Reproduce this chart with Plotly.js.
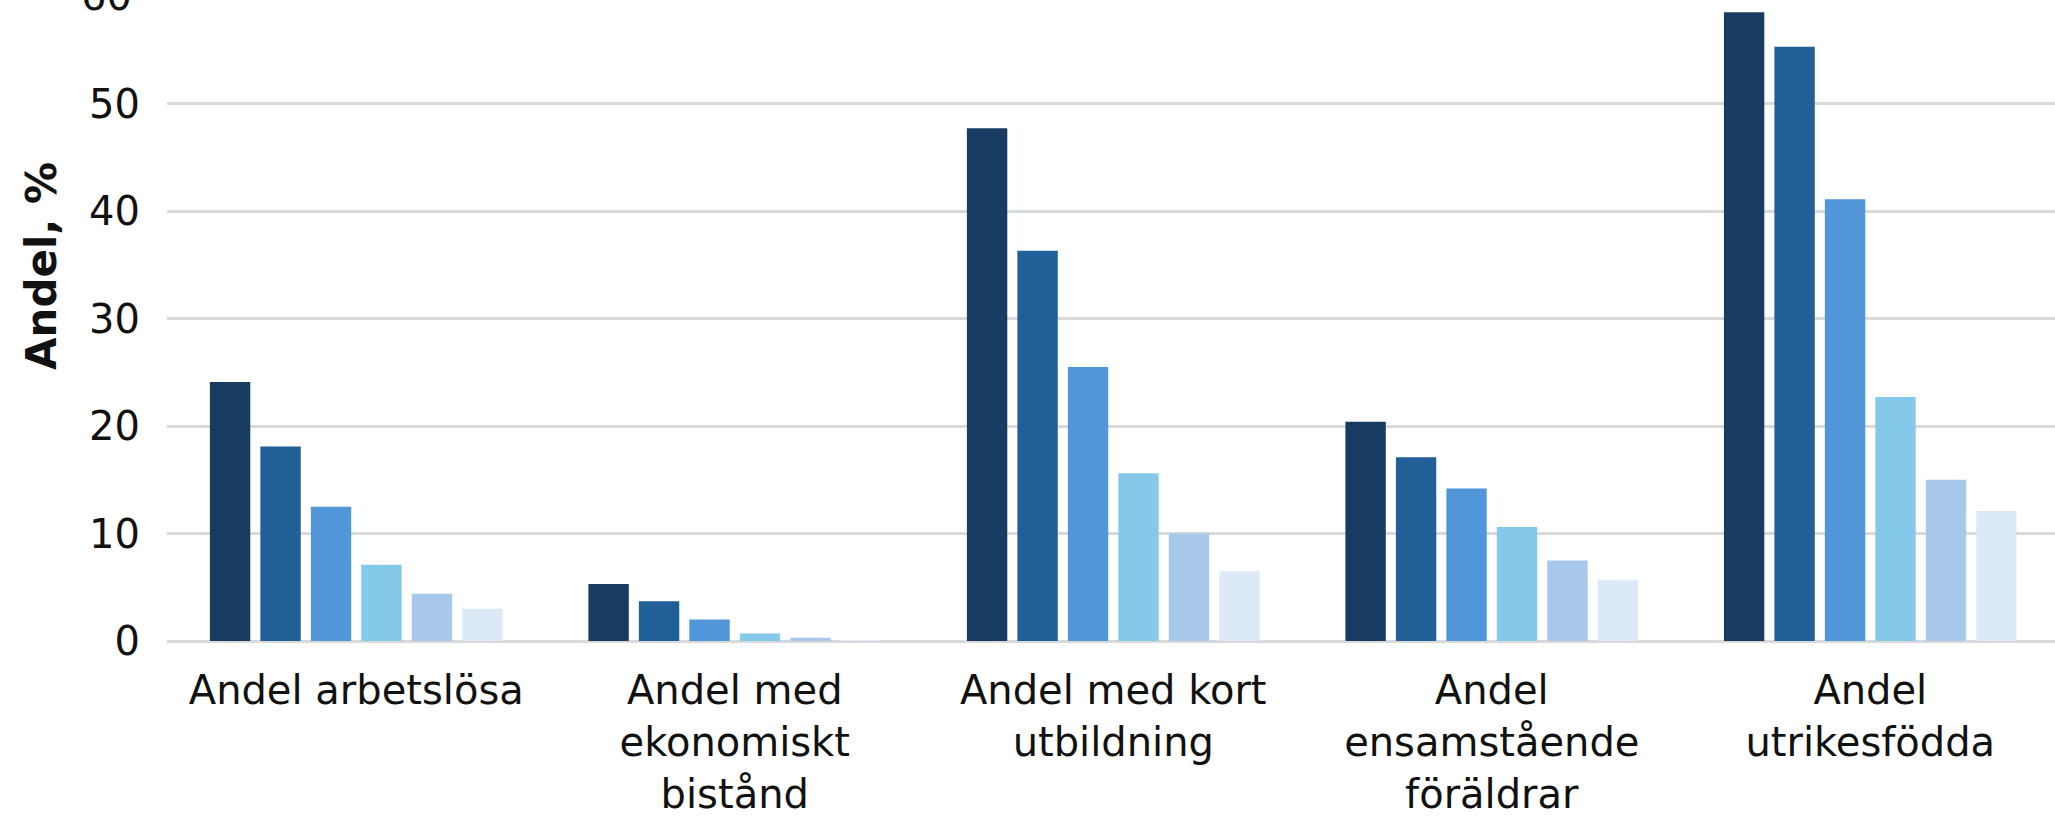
<!DOCTYPE html>
<html>
<head>
<meta charset="utf-8">
<script src="https://cdn.plot.ly/plotly-3.0.1.min.js"></script>
<style>html,body{margin:0;padding:0;background:#fff;}#chart{width:2055px;height:818px;}</style>
</head>
<body>
<div id="chart"></div>
<script>
// Categories (x tick labels)
const categories = [
  "Andel arbetslösa",
  "Andel med<br>ekonomiskt<br>bistånd",
  "Andel med kort<br>utbildning",
  "Andel<br>ensamstående<br>föräldrar",
  "Andel<br>utrikesfödda"
];
// Series names (legend not shown in the crop)
const seriesNames = ["Grupp 1", "Grupp 2", "Grupp 3", "Grupp 4", "Grupp 5", "Grupp 6"];
// Series values (%)
const s1 = [24.1, 5.3, 47.7, 20.4, 58.5];
const s2 = [18.1, 3.7, 36.3, 17.1, 55.3];
const s3 = [12.5, 2.0, 25.5, 14.2, 41.1];
const s4 = [7.1, 0.7, 15.6, 10.6, 22.7];
const s5 = [4.4, 0.3, 10.0, 7.5, 15.0];
const s6 = [3.0, 0.1, 6.5, 5.7, 12.1];
const seriesValues = [s1, s2, s3, s4, s5, s6];
const colors = ["#173b61", "#215f98", "#5096d9", "#84c9ea", "#a7c8ea", "#dce9f7"];
// Y tick values
const yTicks = [0, 10, 20, 30, 40, 50];
const yMax = 59.64;

const traces = seriesValues.map((vals, i) => ({
  type: "bar",
  name: seriesNames[i],
  x: categories,
  y: vals,
  marker: {color: colors[i], line: {width: 0}},
  hoverinfo: "y"
}));

const W = 2055, H = 818;
const mL = 167, mB = 177;
const layout = {
  width: W, height: H,
  margin: {l: mL, r: 0, t: 0, b: mB, pad: 0},
  paper_bgcolor: "#ffffff",
  plot_bgcolor: "#ffffff",
  showlegend: false,
  barmode: "group",
  bargap: 0.2,
  bargroupgap: 0.2,
  font: {family: "DejaVu Sans, Verdana, sans-serif", color: "#111111", size: 40},
  xaxis: {
    type: "category",
    range: [-0.5, 4.488],
    showgrid: false,
    showline: false,
    zeroline: false,
    ticks: "",
    tickfont: {family: "DejaVu Sans, Verdana, sans-serif", size: 40, color: "#111111"},
    ticklabelstandoff: 22,
    fixedrange: true
  },
  yaxis: {
    range: [0, yMax],
    tickvals: yTicks,
    ticktext: yTicks.map(String),
    showgrid: true,
    gridcolor: "#d9d9d9",
    gridwidth: 3,
    zeroline: true,
    zerolinecolor: "#d9d9d9",
    zerolinewidth: 3,
    showline: false,
    ticks: "",
    tickfont: {family: "DejaVu Sans, Verdana, sans-serif", size: 40, color: "#111111"},
    ticklabelstandoff: 26,
    fixedrange: true
  },
  annotations: [
    {
      text: "Andel, %",
      textangle: -90,
      xref: "paper", yref: "paper",
      x: (41 - mL) / (W - mL), y: (641 - 266) / 641,
      xanchor: "center", yanchor: "middle",
      showarrow: false,
      font: {family: "DejaVu Sans, Arial, sans-serif", size: 42, color: "#111111", weight: "bold"}
    },
    {
      text: "60",
      xref: "paper", yref: "paper",
      x: (134 - mL) / (W - mL), y: 60 / yMax,
      xanchor: "right", yanchor: "middle",
      showarrow: false,
      font: {family: "DejaVu Sans, Verdana, sans-serif", size: 40, color: "#111111"}
    }
  ]
};

Plotly.newPlot("chart", traces, layout, {displayModeBar: false, staticPlot: true});
</script>
</body>
</html>
